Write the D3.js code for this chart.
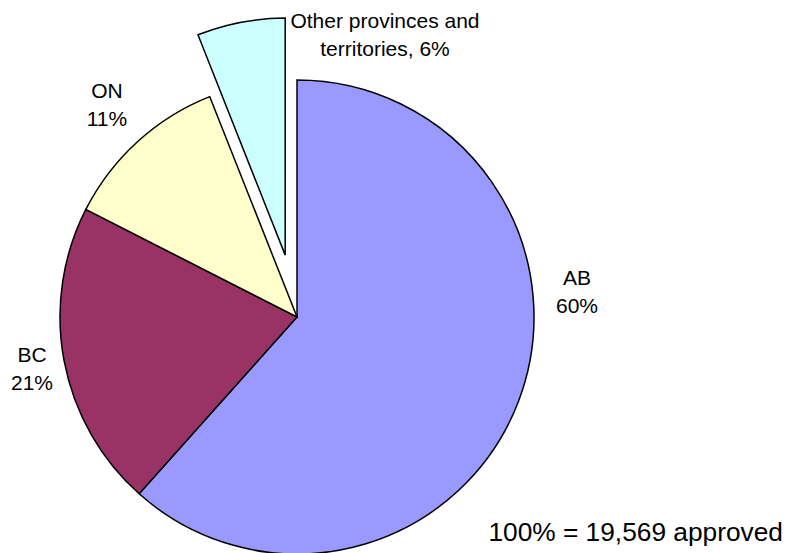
<!DOCTYPE html>
<html>
<head>
<meta charset="utf-8">
<script src="https://cdn.jsdelivr.net/npm/d3@7"></script>
<style>
  html, body { margin: 0; padding: 0; background: #fff; }
  svg { display: block; }
  text { font-family: "Liberation Sans", Arial, sans-serif; fill: #000; }
</style>
</head>
<body>
<svg id="chart" width="789" height="553"></svg>
<script>
// Data
const categories = ["AB", "BC", "ON", "Other provinces and territories"];
const shares = [61.6, 20.9, 11.5, 6.0];          // slice sizes as drawn
const shareLabels = ["60%", "21%", "11%", "6%"];  // printed labels
const totalNote = "100% = 19,569 approved";

// Styles / layout
const colors = ["#9999FF", "#993366", "#FFFFCC", "#CCFFFF"];
const exploded = [0, 0, 0, 63];
const labelLines = [
  ["AB", "60%"],
  ["BC", "21%"],
  ["ON", "11%"],
  ["Other provinces and", "territories, 6%"]
];
const labelPos = [[577, 285], [32, 362], [107, 98], [385, 28]];
const cx = 297, cy = 317, R = 237;

const svg = d3.select("#chart");
const g = svg.append("g").attr("transform", `translate(${cx},${cy})`);

const pie = d3.pie().sort(null).value(d => d.v).startAngle(0).endAngle(2 * Math.PI);
const arc = d3.arc().innerRadius(0).outerRadius(R);
const data = pie(categories.map((c, i) => ({ c, v: shares[i], i })));

g.selectAll("path")
  .data(data)
  .join("path")
  .attr("d", arc)
  .attr("fill", d => colors[d.data.i])
  .attr("stroke", "#000")
  .attr("stroke-width", 1.5)
  .attr("stroke-linejoin", "miter")
  .attr("transform", d => {
    const off = exploded[d.data.i];
    const mid = (d.startAngle + d.endAngle) / 2;
    return `translate(${off * Math.sin(mid)},${-off * Math.cos(mid)})`;
  });

const lineH = 28;
data.forEach(d => {
  const i = d.data.i;
  const [x, y] = labelPos[i];
  const t = svg.append("text")
    .attr("x", x).attr("y", y)
    .attr("text-anchor", "middle")
    .style("font-size", "21px");
  labelLines[i].forEach((ln, k) => {
    t.append("tspan").attr("x", x).attr("y", y + k * lineH).text(ln);
  });
});

svg.append("text")
  .attr("x", 783).attr("y", 541)
  .attr("text-anchor", "end")
  .style("font-size", "26.3px")
  .text(totalNote);
</script>
</body>
</html>
